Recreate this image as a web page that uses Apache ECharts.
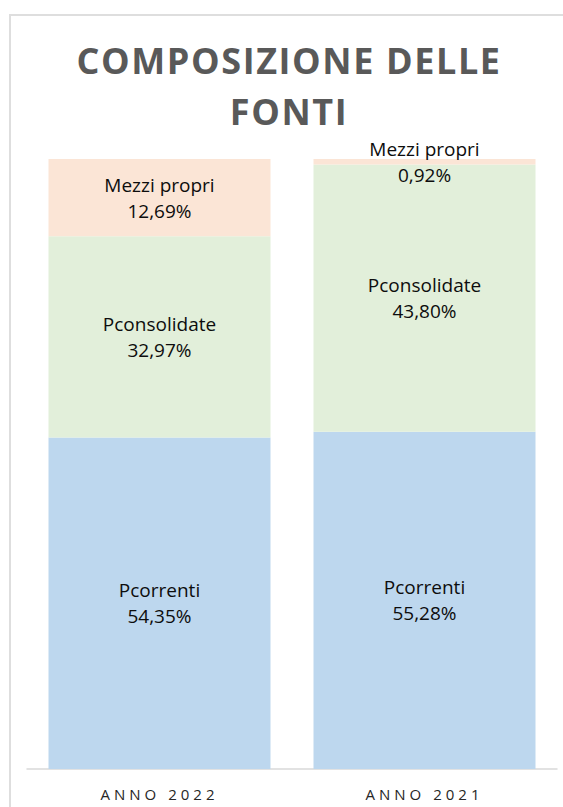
<!DOCTYPE html>
<html>
<head>
<meta charset="utf-8">
<script src="https://cdn.jsdelivr.net/npm/echarts@6/dist/echarts.min.js"></script>
<style>
  html, body { margin: 0; padding: 0; background: #fff; overflow: hidden; }
  #chart { width: 563px; height: 807px; }
  /* Excel-like letter spacing on title and category labels */
  #chart text[style*="36px"] { letter-spacing: 1.6px; }
  #chart text[style*="15px"] { letter-spacing: 4px; }
</style>
</head>
<body>
<div id="chart"></div>
<script>
var categories = ['ANNO 2022', 'ANNO 2021'];
var pcorrenti = [54.35, 55.28];
var pconsolidate = [32.97, 43.80];
var mezziPropri = [12.69, 0.92];

var myChart = echarts.init(document.getElementById('chart'), null, { renderer: 'svg' });

function pct(v) {
	return v.toFixed(2).replace('.', ',') + '%';
}

var labelStyle = {
	show: true,
	position: 'inside',
	fontFamily: 'Open Sans',
	fontSize: 19,
	lineHeight: 26,
	color: '#0d0d0d',
	formatter: function(p) {
		return p.seriesName + '\n' + pct(p.value);
	}
};

function makeSeries(name, data, color) {
	return {
		name: name,
		type: 'bar',
		stack: 'fonti',
		barWidth: 222,
		data: data,
		itemStyle: { color: color },
		label: labelStyle,
		emphasis: { disabled: true }
	};
}

var option = {
	animation: false,
	backgroundColor: '#fff',
	graphic: [{
		// chart area border, only top and left edges are inside the picture
		type: 'polyline',
		shape: { points: [[10, 807], [10, 15], [563, 15]] },
		style: { fill: 'none', stroke: '#dedede', lineWidth: 2 },
		silent: true
	}],
	title: {
		text: 'COMPOSIZIONE DELLE\nFONTI',
		left: 289,
		top: 35,
		padding: 0,
		textAlign: 'center',
		textStyle: {
			fontFamily: 'Open Sans',
			fontWeight: 'bold',
			fontSize: 36,
			lineHeight: 51,
			color: '#595959'
		}
	},
	grid: {
		left: 27,
		right: 6,
		top: 159,
		bottom: 38,
		containLabel: false
	},
	xAxis: {
		type: 'category',
		data: categories,
		axisLine: { show: true, lineStyle: { color: '#d9d9d9', width: 1.5 } },
		axisTick: { show: false },
		axisLabel: {
			margin: 17,
			fontFamily: 'Open Sans',
			fontSize: 15,
			color: '#262626'
		}
	},
	yAxis: {
		type: 'value',
		min: 0,
		max: 100,
		show: false
	},
	series: [
		makeSeries('Pcorrenti', pcorrenti, '#bdd7ee'),
		makeSeries('Pconsolidate', pconsolidate, '#e2efda'),
		makeSeries('Mezzi propri', mezziPropri, '#fbe5d6')
	]
};

myChart.setOption(option);
</script>
</body>
</html>
